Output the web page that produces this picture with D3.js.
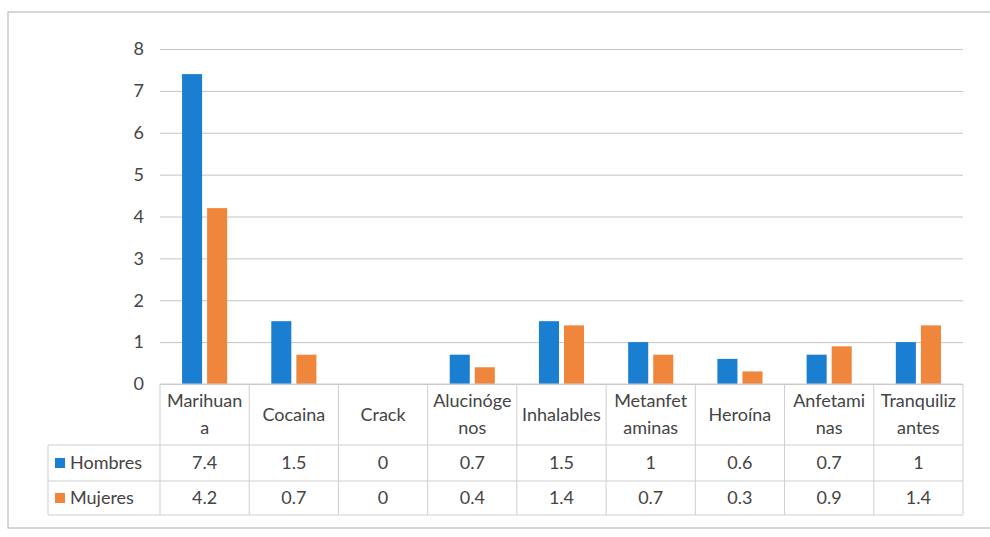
<!DOCTYPE html>
<html>
<head>
<meta charset="utf-8">
<script src="https://cdn.jsdelivr.net/npm/d3@7"></script>
<style>
  body { margin: 0; background: #fff; }
  text { font-family: Lato, "Open Sans", sans-serif; fill: #444; }
</style>
</head>
<body>
<svg id="chart"></svg>
<script>
// datos del grafico
const categories = ["Marihuan\na", "Cocaina", "Crack", "Alucinóge\nnos", "Inhalables",
  "Metanfet\naminas", "Heroína", "Anfetami\nnas", "Tranquiliz\nantes"];
const seriesNames = ["Hombres", "Mujeres"];
const hombres = [7.4, 1.5, 0, 0.7, 1.5, 1, 0.6, 0.7, 1];
const mujeres = [4.2, 0.7, 0, 0.4, 1.4, 0.7, 0.3, 0.9, 1.4];
const yTicks = [0, 1, 2, 3, 4, 5, 6, 7, 8];
const colors = ["#1a7fd0", "#f0853c"];

const W = 990, H = 537;
const plot = { left: 160, right: 963, top: 49, bottom: 384 };
const rowH = [61, 36, 34]; // fila categorias, Hombres, Mujeres
const keyLeft = 48;

const svg = d3.select("#chart").attr("width", W).attr("height", H);

// marco exterior
svg.append("rect")
  .attr("x", 8).attr("y", 12).attr("width", W).attr("height", 516)
  .attr("fill", "none").attr("stroke", "#bdbdbd").attr("stroke-width", 1.2);

const x = d3.scaleBand().domain(categories).range([plot.left, plot.right]);
const y = d3.scaleLinear().domain([0, 8]).range([plot.bottom, plot.top]);
const xs = d3.scaleBand().domain(seriesNames).range([0, x.bandwidth()])
  .paddingInner(0.2).paddingOuter(0.88);

// lineas de cuadricula
const yAxis = svg.append("g")
  .attr("transform", "translate(" + plot.left + ",0)")
  .call(d3.axisLeft(y).tickValues(yTicks).tickSize(-(plot.right - plot.left)).tickPadding(16).tickFormat(d3.format("d")));
yAxis.select(".domain").remove();
yAxis.selectAll(".tick line").attr("stroke", "#c4c4c4");
yAxis.selectAll(".tick text").style("font-size", "18px").attr("fill", "#444")
  .style("font-family", "Lato, sans-serif");

// barras
const data = [hombres, mujeres];
seriesNames.forEach(function (s, si) {
  svg.append("g").selectAll("rect")
    .data(data[si])
    .enter()
    .append("rect")
    .attr("x", function (d, i) { return x(categories[i]) + xs(s); })
    .attr("y", function (d) { return y(d); })
    .attr("width", xs.bandwidth())
    .attr("height", function (d) { return y(0) - y(d); })
    .attr("fill", colors[si]);
});

// tabla de datos
const t0 = plot.bottom;
const t1 = t0 + rowH[0], t2 = t1 + rowH[1], t3 = t2 + rowH[2];
const grid = svg.append("g").attr("stroke", "#cfcfcf").attr("stroke-width", 1);
[t0, t1, t2, t3].forEach(function (yy, k) {
  grid.append("line")
    .attr("x1", k === 0 ? plot.left : keyLeft).attr("x2", plot.right)
    .attr("y1", yy).attr("y2", yy);
});
grid.append("line").attr("x1", keyLeft).attr("x2", keyLeft).attr("y1", t1).attr("y2", t3);
categories.concat([null]).forEach(function (c, i) {
  const xx = c === null ? plot.right : x(c);
  grid.append("line").attr("x1", xx).attr("x2", xx).attr("y1", t0).attr("y2", t3);
});

// etiquetas de categoria
categories.forEach(function (c) {
  const lines = c.split("\n");
  const cx = x(c) + x.bandwidth() / 2;
  const mid = (t0 + t1) / 2;
  lines.forEach(function (ln, k) {
    svg.append("text")
      .attr("x", cx)
      .attr("y", mid + (k - (lines.length - 1) / 2) * 27)
      .attr("dy", "0.35em")
      .attr("text-anchor", "middle")
      .style("font-size", "18px")
      .text(ln);
  });
});

// filas de valores
seriesNames.forEach(function (s, si) {
  const top = si === 0 ? t1 : t2;
  const bot = si === 0 ? t2 : t3;
  const my = (top + bot) / 2;
  svg.append("rect")
    .attr("x", keyLeft + 7).attr("y", my - 5).attr("width", 10).attr("height", 10)
    .attr("fill", colors[si]);
  svg.append("text")
    .attr("x", keyLeft + 22).attr("y", my).attr("dy", "0.35em")
    .style("font-size", "18px")
    .text(s);
  data[si].forEach(function (v, i) {
    svg.append("text")
      .attr("x", x(categories[i]) + x.bandwidth() / 2)
      .attr("y", my).attr("dy", "0.35em")
      .attr("text-anchor", "middle")
      .style("font-size", "18px")
      .text(v);
  });
});
</script>
</body>
</html>
